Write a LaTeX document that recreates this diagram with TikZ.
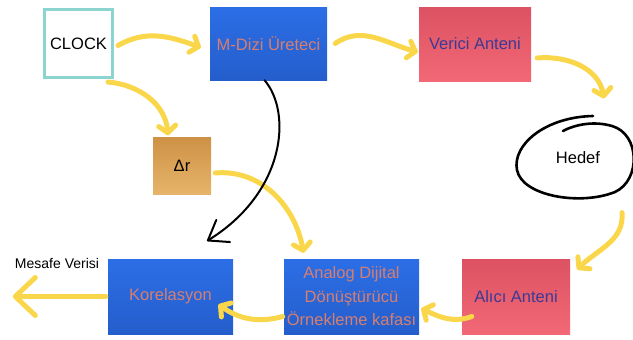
\documentclass[tikz,border=0pt]{standalone}
\usepackage{fontspec}
\setmainfont{Liberation Sans}
\usetikzlibrary{arrows.meta}

\definecolor{clockedge}{RGB}{140,212,208}
\definecolor{boxblue}{RGB}{44,110,230}
\definecolor{boxblueb}{RGB}{36,94,204}
\definecolor{boxpink}{RGB}{220,82,98}
\definecolor{boxpinkb}{RGB}{242,104,118}
\definecolor{deltatan}{RGB}{206,146,70}
\definecolor{deltatanb}{RGB}{230,180,106}
\definecolor{salmontext}{RGB}{216,126,110}
\definecolor{antentext}{RGB}{58,58,150}
\definecolor{arrowyellow}{RGB}{250,214,74}

\tikzset{
  blok/.style={minimum width=#1, inner sep=0pt, align=center,
    font=\fontsize{16.5}{23.5}\selectfont},
  mavi/.style={blok=#1, top color=boxblue, bottom color=boxblueb, text=salmontext},
  pembe/.style={blok=#1, top color=boxpink, bottom color=boxpinkb, text=antentext},
  akis/.style={draw=arrowyellow, line width=5pt, line cap=round,
    -{Straight Barb[round,length=7pt,width=17pt]}},
  cizim/.style={draw=black, line width=2pt, line cap=round}
}

\begin{document}
\begin{tikzpicture}[x=1pt,y=-1pt]
  \useasboundingbox (0,0) rectangle (633,340);

  % --- bloklar ---
  \node[blok=68pt, minimum height=68pt, draw=clockedge, line width=3pt, text=black]
    (clock) at (78.5,43.5) {CLOCK};
  \node[mavi=117pt, minimum height=73pt] (mdizi) at (268.5,43.5) {M-Dizi Üreteci};
  \node[pembe=112pt, minimum height=74pt] (verici) at (475,44) {Verici Anteni};
  \node[blok=58pt, minimum height=57pt, top color=deltatan, bottom color=deltatanb]
    (delta) at (182,166) {Δr};
  \node[font=\fontsize{16.5}{20}\selectfont] (hedef) at (578,158) {Hedef};
  \node[pembe=108pt, minimum height=75pt] (alici) at (516,296.5) {Alıcı Anteni};
  \node[mavi=135pt, minimum height=75pt] (adc) at (351.5,296.5)
    {Analog Dijital\\Dönüştürücü\\Örnekleme kafası};
  \node[mavi=125pt, minimum height=75pt] (korel) at (170.5,296.5) {Korelasyon};
  \node[font=\fontsize{14}{16}\selectfont] (mesafe) at (57,263) {Mesafe Verisi};

  % hedef etrafindaki el cizimi halka
  \draw[cizim, line width=2.6pt] (593,116) .. controls (545,117) and (512,145) .. (517,170)
    .. controls (522,196) and (580,206) .. (615,192)
    .. controls (641,180) and (640,134) .. (612,126)
    .. controls (595,121) and (576,124) .. (563,131);

  % --- sari akis oklari ---
  \draw[akis] ([shift={(4,2)}]clock.east) to[out=30,in=160] ([shift={(-9,4)}]mdizi.west);
  \draw[akis] ([shift={(-6,3)}]clock.south east) to[out=-5,in=95] ([shift={(-14,-2)}]delta.north);
  \draw[akis] ([shift={(8,0)}]mdizi.east) to[out=35,in=165] ([shift={(-1,8)}]verici.west);
  \draw[akis] ([shift={(6,14)}]verici.east) to[out=5,in=100] ([shift={(26,-50)}]hedef.north);
  \draw[akis] ([shift={(44,45)}]hedef.south) to[out=-85,in=45] ([shift={(7,-27)}]alici.east);
  \draw[akis] ([shift={(10,20)}]alici.west) to[out=200,in=-25] ([shift={(2,12)}]adc.east);
  \draw[akis] ([shift={(-1,20)}]adc.west) to[out=195,in=-35] ([shift={(48,8)}]korel.center);
  \draw[akis] ([shift={(4,7)}]delta.east) to[out=5,in=100] ([shift={(-48,-6)}]adc.north);
  \draw[akis, -{Straight Barb[round,length=20pt,width=38pt]}]
    ([xshift=-2]korel.west) -- ([xshift=-95]korel.west);

  % --- siyah geri besleme oku ---
  \coordinate (ucu) at (207,241);
  \draw[cizim, -{Straight Barb[round,length=18pt,width=26pt]}]
    ([xshift=-4]mdizi.south) .. controls (292,112) and (286,192) .. (ucu);
\end{tikzpicture}
\end{document}
